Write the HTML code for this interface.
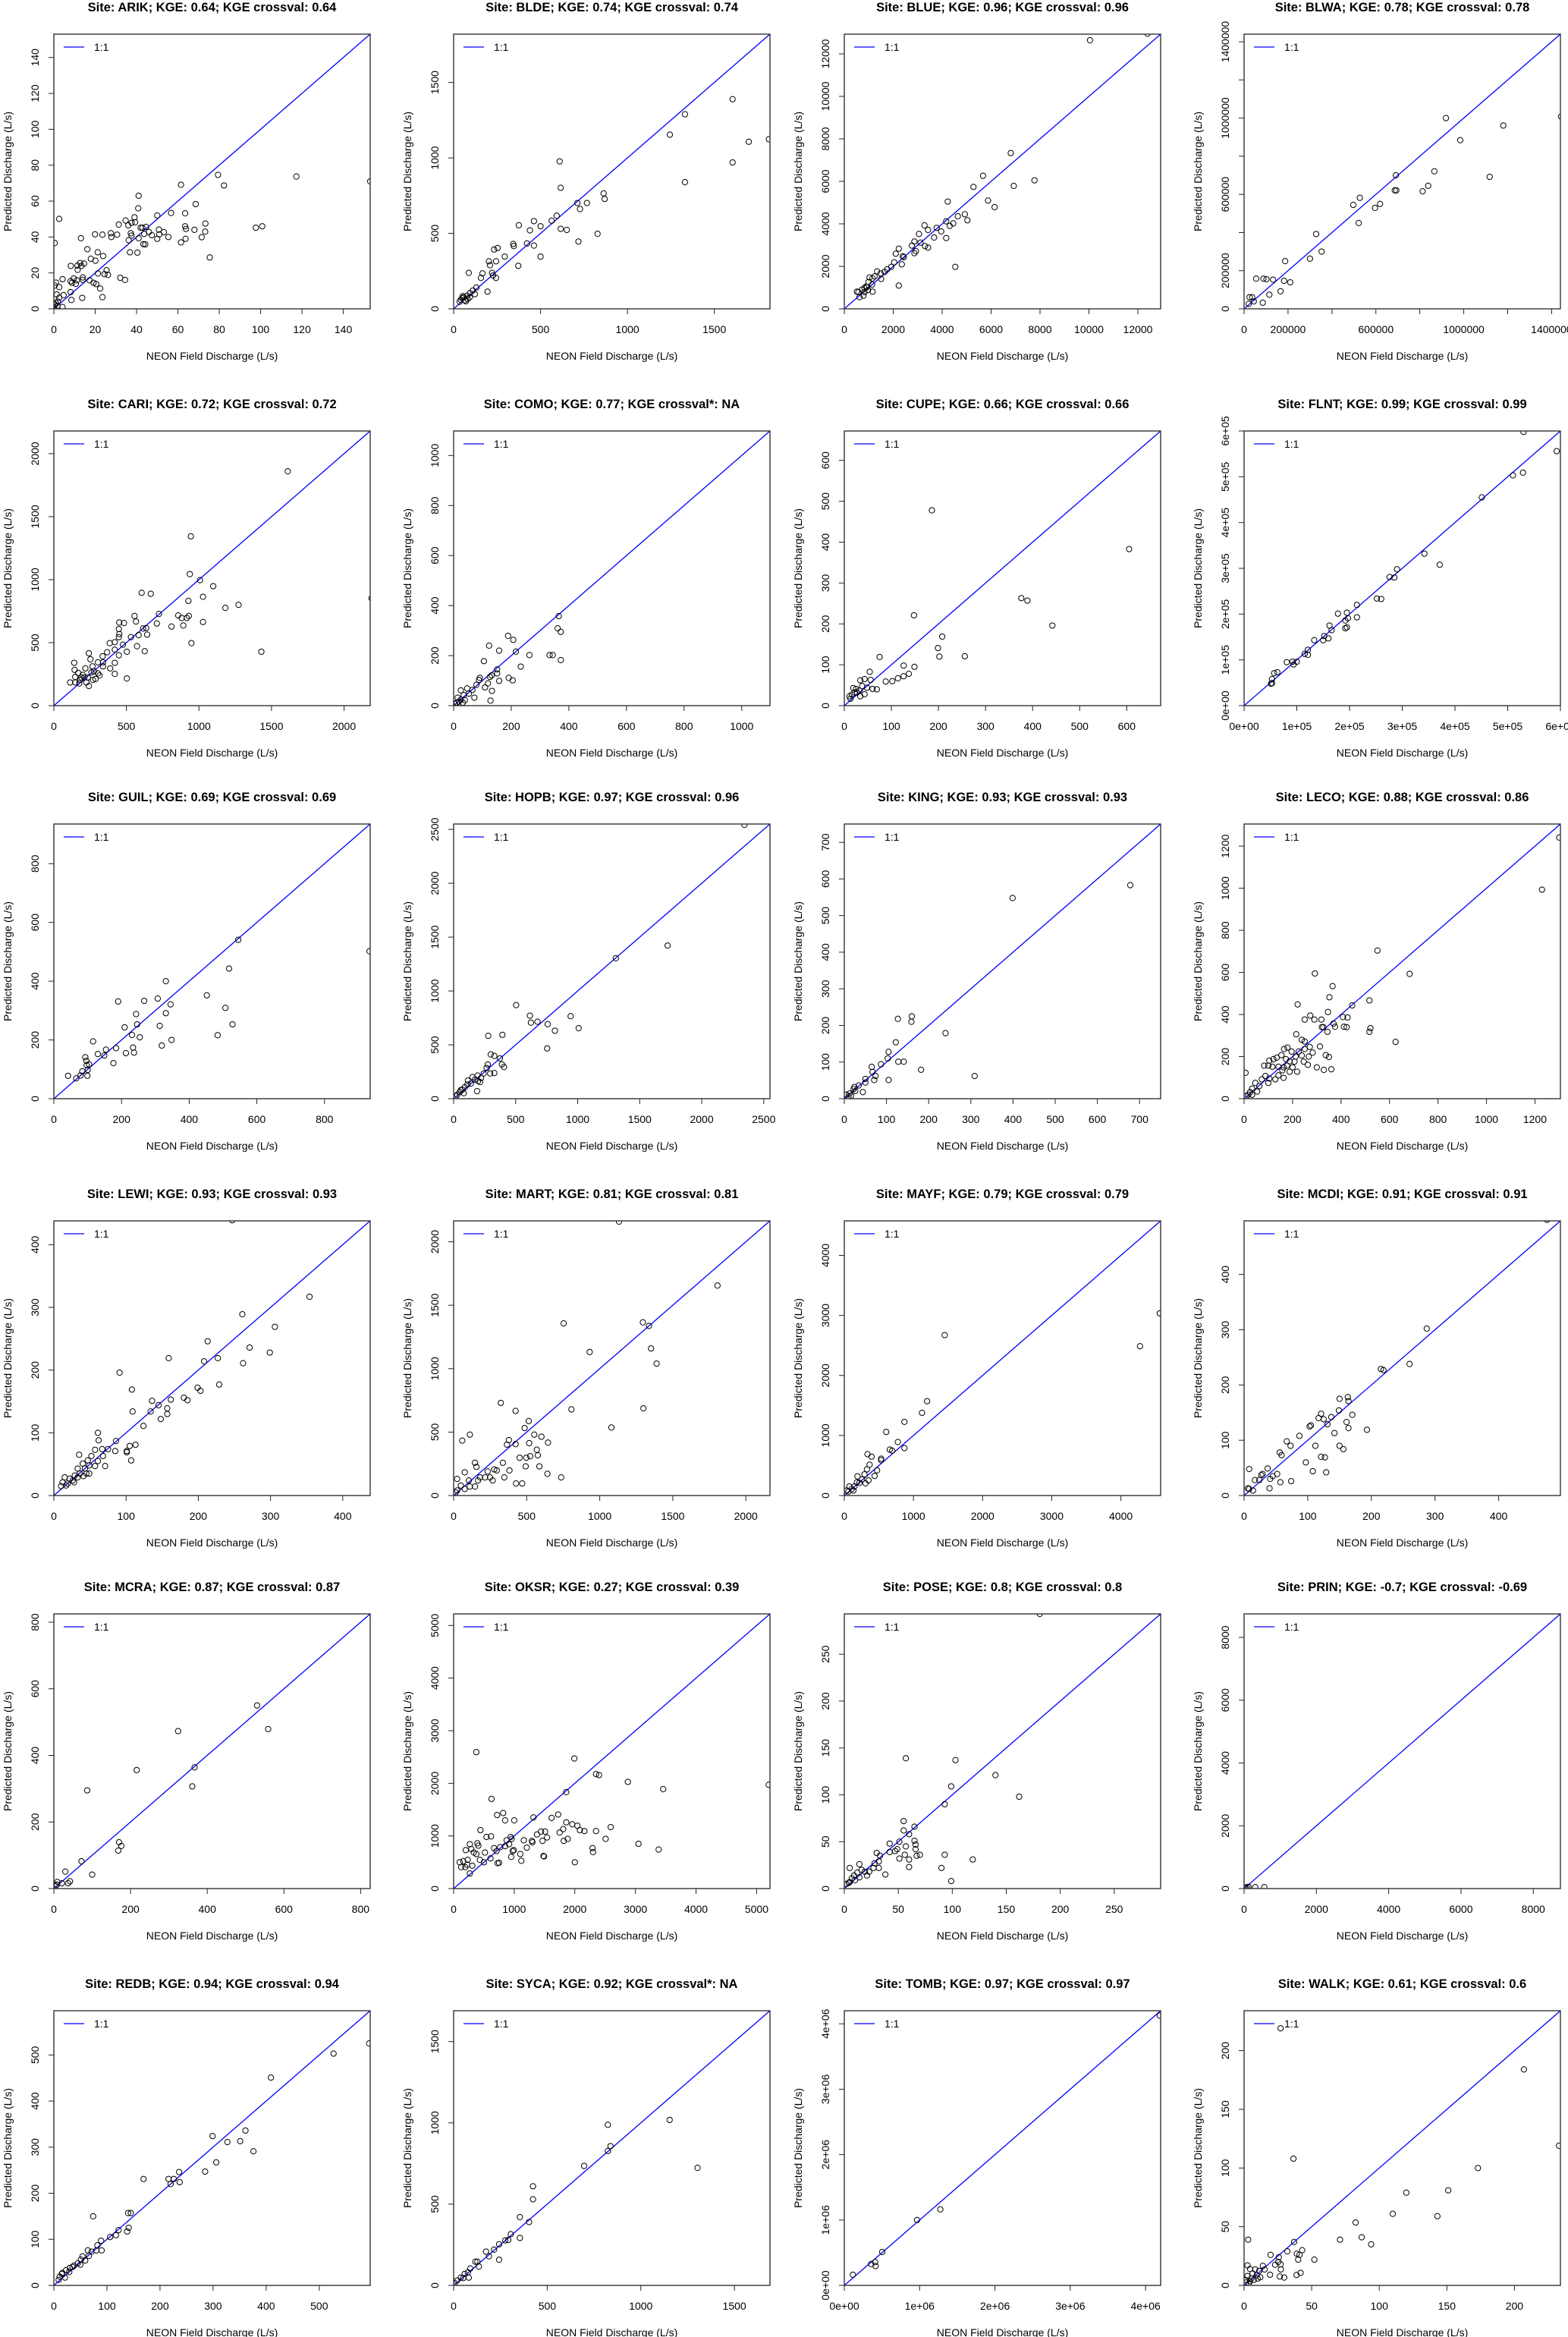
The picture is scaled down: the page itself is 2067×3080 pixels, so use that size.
<!DOCTYPE html>
<html><head><meta charset="utf-8"><title>Predicted vs NEON field discharge</title>
<style>html,body{margin:0;padding:0;background:#fff}svg{display:block}text{font-family:"Liberation Sans",Arial,sans-serif;fill:#000}</style>
</head><body>
<svg id="chart" xmlns="http://www.w3.org/2000/svg" width="2067" height="3080" viewBox="0 0 2067 3080"></svg>
<script>
const sites=["ARIK","BLDE","BLUE","BLWA","CARI","COMO","CUPE","FLNT","GUIL","HOPB","KING","LECO","LEWI","MART","MAYF","MCDI","MCRA","OKSR","POSE","PRIN","REDB","SYCA","TOMB","WALK"];
const kge=["0.64","0.74","0.96","0.78","0.72","0.77","0.66","0.99","0.69","0.97","0.93","0.88","0.93","0.81","0.79","0.91","0.87","0.27","0.8","-0.7","0.94","0.92","0.97","0.61"];
const kgeCross=["0.64","0.74","0.96","0.78","0.72","NA","0.66","0.99","0.69","0.96","0.93","0.86","0.93","0.81","0.79","0.91","0.87","0.39","0.8","-0.69","0.94","NA","0.97","0.6"];
const axisMax=[153,1820,12930,1440000,2180,1098,672,600000,935,2550,750,1305,438,2165,4575,497,825,5220,293,8750,596,1690,4200000,234];
const tickValues=[[0,20,40,60,80,100,120,140],[0,500,1000,1500],[0,2000,4000,6000,8000,10000,12000],[0,200000,400000,600000,800000,1000000,1200000,1400000],[0,500,1000,1500,2000],[0,200,400,600,800,1000],[0,100,200,300,400,500,600],[0,100000,200000,300000,400000,500000,600000],[0,200,400,600,800],[0,500,1000,1500,2000,2500],[0,100,200,300,400,500,600,700],[0,200,400,600,800,1000,1200],[0,100,200,300,400],[0,500,1000,1500,2000],[0,1000,2000,3000,4000],[0,100,200,300,400],[0,200,400,600,800],[0,1000,2000,3000,4000,5000],[0,50,100,150,200,250],[0,2000,4000,6000,8000],[0,100,200,300,400,500],[0,500,1000,1500],[0,1000000,2000000,3000000,4000000],[0,50,100,150,200]];
const tickLabels=[["0","20","40","60","80","100","120","140"],["0","500","1000","1500"],["0","2000","4000","6000","8000","10000","12000"],["0","200000","","600000","","1000000","","1400000"],["0","500","1000","1500","2000"],["0","200","400","600","800","1000"],["0","100","200","300","400","500","600"],["0e+00","1e+05","2e+05","3e+05","4e+05","5e+05","6e+05"],["0","200","400","600","800"],["0","500","1000","1500","2000","2500"],["0","100","200","300","400","500","600","700"],["0","200","400","600","800","1000","1200"],["0","100","200","300","400"],["0","500","1000","1500","2000"],["0","1000","2000","3000","4000"],["0","100","200","300","400"],["0","200","400","600","800"],["0","1000","2000","3000","4000","5000"],["0","50","100","150","200","250"],["0","2000","4000","6000","8000"],["0","100","200","300","400","500"],["0","500","1000","1500"],["0e+00","1e+06","2e+06","3e+06","4e+06"],["0","50","100","150","200"]];

const pts_ARIK=[[2.6,50.1],[0.4,36.6],[61.5,69.1],[79.4,74.6],[82.3,68.7],[117.3,73.7],[153,71],[41,63],[40.8,56],[68.6,58.3],[50,52],[56.7,53.4],[63.5,53.2],[39,51],[34.7,49.2],[31.4,46.9],[36,46.5],[37.6,47.9],[39.3,48.2],[42,45.2],[42.8,45.2],[44.6,45.6],[46,42.8],[43.7,41.7],[47.4,41],[50.8,44.1],[53.2,42.7],[55.4,40],[50,39],[51,41.5],[41,39.3],[37.2,42.1],[36.2,38.2],[37.6,40.8],[43.3,36],[44.2,35.9],[36.8,31.5],[40.4,31.3],[63.5,46],[63.9,44.5],[63.7,39],[61.5,37],[68,44],[73.3,47.5],[73.2,43],[71.5,39.9],[75.4,28.6],[97.7,45.2],[100.8,46],[19.9,41.5],[23.5,41.3],[27.6,42.1],[27.8,40],[30.6,41.3],[13.1,39.3],[16.2,33.2],[21.2,31.5],[23.8,29.4],[17.9,27.9],[20.1,26.8],[12.7,25.5],[14.6,25.2],[13.3,23.9],[8.2,23.9],[11.4,24.1],[11.5,21.7],[25.5,21.5],[21.3,19.7],[24.5,19.3],[26.2,18.9],[4.2,16.5],[9.6,16.9],[8.1,15.4],[8.8,14.5],[10.6,13.9],[11.2,15.9],[14,17.5],[14,16.2],[17.3,15.9],[19.2,14.5],[20.5,13.8],[22.4,11.3],[32.1,17.3],[34.4,16.1],[8.1,9.3],[8.5,4.9],[13.7,6.1],[23.5,6.5],[4.7,7.6],[2.6,12.1],[1,14.6],[0.4,13],[1.4,8],[2.6,6.2],[1.9,4.1],[0.4,2.4],[1,3.1],[4.2,1],[0.1,1],[1.7,1.7]];
const pts_BLDE=[[1605,1389],[1331,1289],[1244,1154],[1698,1107],[1814,1124],[610,977],[1605,970],[1331,839],[616,802],[863,765],[869,728],[712,701],[767,701],[727,661],[828,497],[718,446],[593,617],[564,584],[616,530],[651,523],[462,581],[375,554],[500,547],[439,520],[343,430],[422,433],[462,419],[346,416],[500,346],[372,285],[294,346],[233,393],[253,403],[203,315],[244,315],[209,289],[221,238],[227,221],[244,205],[87,238],[166,235],[157,205],[195,114],[131,141],[110,121],[93,104],[122,97],[78,87],[58,77],[49,70],[35,47],[64,57],[81,64],[70,50],[41,60],[93,77],[52,84]];
const pts_BLUE=[[12392,12952],[10041,12643],[6804,7333],[5670,6262],[5278,5738],[7773,6048],[6928,5786],[4227,5048],[5876,5095],[6144,4786],[4928,4452],[4639,4357],[5031,4167],[4165,4119],[4454,4024],[4309,3905],[3278,3929],[3423,3714],[3773,3810],[3959,3643],[3670,3357],[4165,3333],[3052,3524],[2866,3167],[3113,3119],[3299,2952],[3423,2881],[2763,2976],[2928,2714],[2866,2619],[4536,1976],[2227,2833],[2103,2595],[2392,2476],[2433,2429],[2351,2095],[2041,2190],[1918,1976],[1753,1857],[1649,1738],[1485,1667],[1340,1762],[1237,1524],[1505,1405],[2227,1095],[1155,1429],[1031,1476],[990,1262],[1134,1143],[928,1024],[825,976],[722,905],[577,786],[825,786],[1155,810],[619,548],[784,619],[969,881],[887,1048],[515,810]];
const pts_BLWA=[[919e3,1000e3],[1180e3,961e3],[1443e3,1008e3],[984e3,884e3],[866e3,721e3],[691e3,700e3],[1118e3,692e3],[838e3,645e3],[813e3,616e3],[686e3,621e3],[693e3,621e3],[527e3,582e3],[497e3,545e3],[619e3,550e3],[596e3,529e3],[522e3,450e3],[328e3,392e3],[353e3,300e3],[300e3,263e3],[187e3,250e3],[55e3,158e3],[88e3,158e3],[102e3,155e3],[132e3,153e3],[182e3,147e3],[210e3,139e3],[166e3,92e3],[115e3,74e3],[25e3,61e3],[37e3,61e3],[44e3,39e3],[85e3,32e3],[21e3,26e3]];
const pts_CARI=[[1612,1860],[944,1344],[937,1044],[2189,852],[1007,996],[1098,948],[605,896],[668,888],[1028,864],[927,832],[1273,800],[1182,776],[724,728],[857,716],[881,696],[930,712],[916,696],[556,712],[566,668],[1028,664],[710,652],[811,628],[892,636],[615,612],[636,616],[451,660],[483,656],[448,608],[948,496],[1430,428],[503,216],[626,432],[573,472],[584,560],[643,564],[531,544],[451,568],[448,544],[420,504],[385,496],[476,484],[503,428],[420,444],[448,400],[420,340],[367,424],[336,392],[339,344],[388,296],[420,252],[339,312],[304,344],[252,368],[241,416],[266,312],[276,272],[217,296],[315,240],[140,340],[143,284],[147,228],[112,184],[182,204],[199,244],[234,224],[259,264],[168,260],[175,176],[224,184],[269,204],[304,256],[210,224],[147,184],[189,224],[241,156],[287,212]];
const pts_COMO=[[365,358],[361,309],[372,295],[372,182],[333,202],[344,202],[263,202],[189,279],[207,263],[123,240],[158,220],[216,216],[233,156],[105,178],[191,111],[205,101],[151,145],[151,129],[158,99],[91,111],[88,103],[79,83],[126,115],[132,121],[119,89],[109,73],[133,59],[128,20],[65,63],[47,69],[53,48],[72,32],[25,61],[35,42],[14,32],[25,24],[39,22],[11,12],[4,8],[18,16],[32,12]];
const pts_CUPE=[[186,478],[605,383],[376,263],[389,257],[442,196],[148,221],[208,169],[199,141],[202,120],[256,121],[75,119],[126,98],[149,95],[137,78],[126,72],[114,67],[102,60],[88,59],[69,40],[54,83],[56,63],[43,65],[34,62],[38,48],[48,44],[60,41],[43,28],[32,37],[25,41],[19,43],[22,32],[16,27],[11,23],[13,17],[27,32],[34,23]];
const pts_FLNT=[[530e3,598e3],[593e3,556e3],[510e3,503e3],[529e3,509e3],[451e3,455e3],[342e3,332e3],[371e3,308e3],[290e3,298e3],[276e3,281e3],[285e3,280e3],[252e3,234e3],[260e3,233e3],[214e3,220e3],[214e3,193e3],[195e3,203e3],[178e3,201e3],[197e3,191e3],[192e3,186e3],[192e3,169e3],[195e3,171e3],[162e3,175e3],[166e3,165e3],[152e3,152e3],[160e3,147e3],[150e3,143e3],[133e3,143e3],[121e3,122e3],[115e3,113e3],[121e3,111e3],[100e3,96e3],[94e3,90e3],[92e3,96e3],[81e3,95e3],[63e3,73e3],[57e3,71e3],[53e3,58e3],[53e3,49e3],[51e3,48e3]];
const pts_GUIL=[[933,502],[545,541],[518,443],[331,400],[452,352],[507,309],[528,253],[484,216],[348,200],[319,181],[190,331],[307,341],[267,333],[243,288],[331,291],[313,248],[345,321],[246,253],[254,209],[209,243],[231,217],[234,174],[237,157],[213,155],[184,172],[176,121],[116,195],[130,152],[154,167],[149,147],[93,141],[96,129],[104,117],[97,114],[100,98],[99,78],[84,93],[79,79],[66,69],[42,78]];
const pts_HOPB=[[2344,2542],[1725,1421],[1307,1304],[504,869],[615,771],[623,706],[676,715],[758,692],[943,766],[1008,654],[816,631],[754,467],[279,584],[393,593],[299,411],[328,397],[373,374],[389,318],[406,294],[275,318],[328,238],[295,234],[266,285],[242,234],[193,215],[221,192],[152,201],[197,164],[115,168],[139,140],[189,70],[90,107],[70,84],[82,51],[49,61],[29,37],[16,23],[111,131],[172,178],[213,154],[57,79]];
const pts_KING=[[678,583],[399,548],[160,225],[159,210],[127,218],[240,179],[122,154],[105,128],[103,110],[87,94],[128,101],[141,101],[182,79],[309,62],[65,87],[67,73],[74,62],[71,51],[105,51],[50,54],[50,44],[44,18],[34,36],[24,32],[22,26],[26,21],[12,14],[5,11],[16,8],[10,6]];
const pts_LECO=[[1300,1241],[1229,993],[550,704],[683,593],[292,595],[365,535],[352,482],[446,443],[221,448],[346,412],[517,467],[521,335],[517,318],[625,270],[408,388],[427,386],[369,357],[375,342],[412,342],[423,340],[319,376],[273,395],[250,376],[290,376],[321,340],[344,318],[327,340],[337,207],[350,198],[360,140],[329,137],[300,149],[271,246],[283,219],[250,272],[215,306],[238,280],[250,236],[225,224],[238,205],[213,200],[196,224],[179,243],[165,236],[154,207],[173,188],[188,178],[208,176],[200,149],[177,157],[163,149],[135,195],[121,188],[104,181],[83,157],[100,157],[117,152],[142,152],[158,135],[142,111],[163,99],[129,92],[104,96],[88,108],[100,75],[73,92],[63,60],[46,75],[33,48],[25,31],[17,19],[8,12],[6,123],[54,34],[33,19],[188,128],[219,128],[246,176],[267,200],[313,248],[263,161]];
const pts_LEWI=[[247,439],[354,317],[261,289],[306,269],[213,246],[271,236],[299,228],[159,219],[208,214],[227,219],[262,211],[91,196],[108,169],[199,172],[203,167],[229,177],[180,156],[185,152],[162,153],[136,151],[145,144],[134,134],[109,134],[157,139],[157,130],[148,122],[124,111],[86,87],[61,100],[62,88],[67,74],[75,74],[85,71],[101,71],[113,81],[105,79],[101,69],[107,56],[35,65],[57,73],[52,63],[47,56],[40,51],[49,48],[61,55],[68,63],[71,47],[57,47],[43,43],[33,43],[36,35],[29,32],[22,27],[15,29],[12,21],[19,19],[26,24],[33,29],[45,35],[41,31],[49,35],[17,16],[28,21],[10,15]];
const pts_MART=[[1132,2159],[1806,1655],[1295,1365],[1337,1337],[753,1357],[931,1131],[1351,1159],[1389,1040],[806,679],[1299,687],[1080,536],[323,730],[424,667],[59,433],[111,480],[514,587],[486,532],[552,480],[601,464],[646,417],[378,437],[365,401],[424,405],[517,413],[569,361],[576,317],[497,298],[452,298],[524,310],[493,230],[587,230],[642,171],[736,143],[337,258],[382,198],[347,143],[469,95],[427,95],[146,258],[156,226],[278,206],[233,190],[215,143],[295,198],[250,143],[267,119],[181,143],[167,119],[104,119],[76,183],[111,71],[24,131],[49,79],[76,52],[24,40],[14,24],[146,71]];
const pts_MAYF=[[4562,3034],[4277,2487],[1453,2672],[1197,1571],[1124,1378],[869,1227],[606,1059],[774,891],[869,790],[693,748],[657,765],[533,613],[533,588],[336,689],[394,647],[365,513],[328,437],[474,420],[438,328],[190,319],[292,353],[255,269],[219,210],[146,151],[109,109],[58,67],[307,202],[182,218],[73,151],[36,84],[131,84],[350,252]];
const pts_MCDI=[[476,499],[287,302],[215,229],[219,227],[260,238],[150,175],[163,178],[164,171],[170,146],[149,154],[161,133],[164,122],[193,119],[121,148],[117,140],[125,138],[137,142],[131,129],[103,125],[105,127],[142,113],[150,90],[156,84],[112,90],[87,108],[67,98],[73,90],[56,78],[59,73],[97,60],[108,44],[121,70],[127,69],[129,42],[74,26],[57,24],[8,48],[37,49],[52,39],[41,30],[45,35],[27,37],[24,28],[29,39],[17,28],[40,13],[8,12],[14,9],[6,13]];
const pts_MCRA=[[530,550],[559,479],[324,473],[367,364],[361,307],[216,356],[87,295],[170,139],[176,128],[168,114],[72,82],[30,51],[100,42],[42,22],[37,16],[21,16],[9,20],[8,12],[5,9]];
const pts_OKSR=[[5200,1972],[375,2593],[1992,2472],[2350,2176],[2400,2157],[2875,2028],[3458,1889],[1858,1833],[625,1704],[1317,1352],[1725,1407],[1617,1343],[717,1398],[817,1435],[850,1296],[1000,1296],[442,1111],[1858,1259],[1958,1222],[2042,1194],[2083,1111],[2158,1093],[2350,1093],[2592,1167],[2508,944],[2292,769],[2300,694],[3050,852],[3383,741],[2000,500],[1750,1065],[1808,1130],[1817,907],[1883,944],[1442,1083],[1508,1083],[1467,907],[1542,972],[1375,1028],[1292,907],[1300,880],[1158,917],[1208,778],[1100,657],[1117,528],[1483,620],[1492,611],[942,981],[958,944],[917,843],[975,713],[950,602],[992,731],[875,917],[850,806],[767,787],[708,713],[667,769],[617,991],[608,574],[725,481],[750,491],[542,981],[392,861],[408,815],[375,657],[433,546],[500,500],[517,685],[333,685],[292,750],[267,843],[233,546],[200,731],[158,519],[100,500],[125,407],[192,407],[267,287],[225,454],[308,435]];
const pts_POSE=[[181,293],[57,139],[103,137],[140,121],[99,109],[162,98],[93,90],[55,72],[55,62],[65,66],[60,58],[42,48],[51,50],[65,51],[66,47],[57,45],[49,42],[47,40],[66,42],[56,36],[67,35],[70,36],[60,31],[51,32],[93,36],[119,31],[60,23],[90,22],[99,8],[42,39],[30,38],[33,35],[32,29],[32,22],[28,27],[27,22],[38,15],[21,14],[14,26],[5,22],[16,20],[12,17],[19,18],[9,14],[7,11],[5,7],[2,5],[14,12],[23,18],[10,9],[4,6]];
const pts_PRIN=[[559,46],[308,46],[84,46],[42,30],[126,56],[28,14]];
const pts_REDB=[[594,525],[527,503],[409,451],[299,324],[361,336],[351,313],[327,311],[376,291],[306,267],[285,247],[236,246],[237,224],[216,231],[226,231],[220,220],[169,231],[74,150],[140,157],[145,157],[138,117],[141,125],[122,120],[117,109],[106,105],[89,97],[82,87],[80,76],[90,76],[71,73],[64,76],[66,64],[54,63],[51,56],[45,48],[38,43],[50,45],[30,38],[23,33],[16,27],[11,19],[21,17],[9,12],[15,25],[59,54],[35,40],[29,29]];
const pts_SYCA=[[1154,1018],[1303,723],[824,988],[838,857],[824,827],[697,735],[424,610],[424,530],[354,420],[403,390],[354,292],[305,315],[276,277],[292,280],[243,253],[243,158],[216,220],[189,179],[173,208],[127,146],[116,146],[135,116],[89,104],[76,80],[81,48],[59,71],[38,48],[19,30],[5,15],[51,45]];
const pts_TOMB=[[4188e3,4126e3],[1275e3,1163e3],[966e3,1000e3],[503e3,511e3],[409e3,356e3],[356e3,326e3],[416e3,296e3],[114e3,163e3]];
const pts_WALK=[[27,219],[207,184],[233,119],[36.5,108],[173,100],[120,79],[151,81],[110,61],[143,59],[82.5,53.6],[71,39],[87,41],[94,35],[3,39],[37,37],[32,29],[43,30],[39,27],[41,26],[40,22],[52,22],[19.6,26],[25.7,24],[25.3,20],[27,18],[23,17.6],[27.2,13.6],[38.8,8.9],[41.8,10.7],[26.4,7.6],[29.7,6.7],[19.2,9.1],[15.2,13.6],[13.9,16.7],[11.2,12.4],[8.2,13.6],[2.5,17.1],[4.4,14],[6.3,10.2],[9.3,8.7],[2.5,8],[5.3,5.8],[4.4,3.6],[1.5,2.4],[7.2,4.7],[10,5.8],[12,6.9],[3.4,1.3],[1.1,4.7]];
const sitePoints=[pts_ARIK,pts_BLDE,pts_BLUE,pts_BLWA,pts_CARI,pts_COMO,pts_CUPE,pts_FLNT,pts_GUIL,pts_HOPB,pts_KING,pts_LECO,pts_LEWI,pts_MART,pts_MAYF,pts_MCDI,pts_MCRA,pts_OKSR,pts_POSE,pts_PRIN,pts_REDB,pts_SYCA,pts_TOMB,pts_WALK];

const NS="http://www.w3.org/2000/svg";
const svg=document.getElementById("chart");
const colLeft=[71,598,1113,1640], rowTop=[45,568,1086,1609,2127,2650];
const PW=417, PH=362;
function mk(tag,attrs,parent){const e=document.createElementNS(NS,tag);for(const k in attrs)e.setAttribute(k,attrs[k]);(parent||svg).appendChild(e);return e;}
const defs=mk("defs",{});
sites.forEach((site,i)=>{
  const L=colLeft[i%4], T=rowTop[Math.floor(i/4)], lim=axisMax[i];
  const sx=v=>L+v/lim*PW, sy=v=>T+PH-v/lim*PH;
  const slug=site.toLowerCase();
  const g=mk("g",{});
  
  
  const cp=mk("clipPath",{id:"clip"+i},defs);
  mk("rect",{x:L,y:T,width:PW,height:PH},cp);
  const title=mk("text",{x:L+PW/2,y:T-30,"text-anchor":"middle","font-size":"16.5","font-weight":"bold"},g);
  title.textContent="Site: "+site+"; KGE: "+kge[i]+"; KGE crossval"+(kgeCross[i]==="NA"?"*":"")+": "+kgeCross[i];
  
  
  // ticks
  const tg=mk("g",{},g);
  
  
  tickValues[i].forEach((v,j)=>{
    const x=sx(v), y=sy(v), lab=tickLabels[i][j];
    mk("line",{x1:x,y1:T+PH,x2:x,y2:T+PH+7,stroke:"#222","stroke-width":1},tg);
    mk("line",{x1:L,y1:y,x2:L-7,y2:y,stroke:"#222","stroke-width":1},tg);
    if(lab!==""){
      const xt=mk("text",{x:x,y:T+PH+32,"text-anchor":"middle","font-size":"14"},tg);
      xt.textContent=lab;
      
      
      const yt=mk("text",{x:0,y:0,"text-anchor":"middle","font-size":"14",transform:"translate("+(L-20)+","+y+") rotate(-90)"},tg);
      yt.textContent=lab;
      
      
    }
  });
  const xl=mk("text",{x:L+PW/2,y:T+PH+67,"text-anchor":"middle","font-size":"14"},g);
  xl.textContent="NEON Field Discharge (L/s)";
  
  
  const yl=mk("text",{x:0,y:0,"text-anchor":"middle","font-size":"14",transform:"translate("+(L-56)+","+(T+PH/2)+") rotate(-90)"},g);
  yl.textContent="Predicted Discharge (L/s)";
  
  
  const oneToOne=mk("line",{x1:sx(0),y1:sy(0),x2:sx(lim),y2:sy(lim),stroke:"#0000ff","stroke-width":1.3},g);
  
  
  const pg=mk("g",{"clip-path":"url(#clip"+i+")"},g);
  
  
  sitePoints[i].forEach(p=>{
    const c=mk("circle",{cx:sx(p[0]),cy:sy(p[1]),r:3.6,fill:"none",stroke:"#000","stroke-width":1},pg);
    
    
  });
  const box=mk("rect",{x:L,y:T,width:PW,height:PH,fill:"none",stroke:"#333","stroke-width":1.4},g);
  
  
  const lg=mk("g",{},g);
  
  
  const ll=mk("line",{x1:L+13,y1:T+17,x2:L+40,y2:T+17,stroke:"#0000ff","stroke-width":1.3},lg);
  
  
  const lt=mk("text",{x:L+53,y:T+22,"font-size":"14"},lg);
  lt.textContent="1:1";
  
  
});
</script>
</body></html>
